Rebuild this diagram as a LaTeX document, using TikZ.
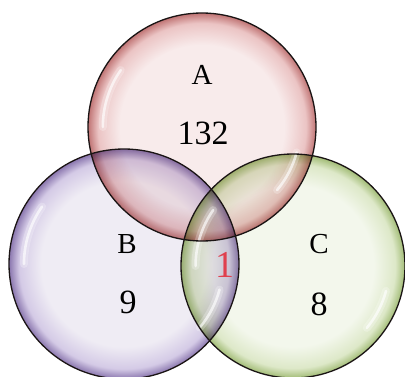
\documentclass[tikz,border=0pt]{standalone}
\usepackage{fontspec}
\setmainfont{Liberation Serif}
\definecolor{Ain}{HTML}{F8EBEB}
\definecolor{Amid}{HTML}{EBC4C4}
\definecolor{Aout}{HTML}{C07474}
\definecolor{Bin}{HTML}{EFECF4}
\definecolor{Bmid}{HTML}{D4CAE6}
\definecolor{Bout}{HTML}{8A76AE}
\definecolor{Cin}{HTML}{F3F7EC}
\definecolor{Cmid}{HTML}{DDE8C8}
\definecolor{Cout}{HTML}{A2BC76}
\definecolor{rimline}{HTML}{1A1414}
\definecolor{redone}{HTML}{E0404E}
\pgfdeclareradialshading{bubA}{\pgfpoint{0bp}{0bp}}{color(0bp)=(Ain); color(18bp)=(Ain); color(22.8bp)=(Amid); color(25bp)=(Aout); color(50bp)=(Aout)}
\pgfdeclareradialshading{bubB}{\pgfpoint{0bp}{0bp}}{color(0bp)=(Bin); color(18bp)=(Bin); color(22.8bp)=(Bmid); color(25bp)=(Bout); color(50bp)=(Bout)}
\pgfdeclareradialshading{bubC}{\pgfpoint{0bp}{0bp}}{color(0bp)=(Cin); color(18bp)=(Cin); color(22.8bp)=(Cmid); color(25bp)=(Cout); color(50bp)=(Cout)}
\tikzset{
  rim/.style={draw=rimline, line width=1.3pt},
  glow/.style={draw=white, line width=8pt, opacity=0.25, line cap=round},
  gloss/.style={draw=white, line width=2.6pt, opacity=0.65, line cap=round},
  lab/.style={font=\fontsize{29}{31}\selectfont, inner sep=0pt},
  num/.style={font=\fontsize{34}{36}\selectfont, inner sep=0pt},
  onered/.style={font=\fontsize{38}{40}\selectfont, inner sep=0pt, text=redone},
}
\newcommand{\glossarcs}[2]{%
  \path[glow] ($(#1)+(145:{0.87*#2})$) arc (145:180:{0.87*#2});
  \path[gloss] ($(#1)+(145:{0.87*#2})$) arc (145:180:{0.87*#2});
  \path[glow] ($(#1)+(-15:{0.86*#2})$) arc (-15:-40:{0.86*#2});
  \path[gloss] ($(#1)+(-15:{0.86*#2})$) arc (-15:-40:{0.86*#2});
}
\usetikzlibrary{calc}
\begin{document}
\begin{tikzpicture}[x=1pt,y=1pt]
\fill[white] (0,0) rectangle (405,376);
\useasboundingbox (0,0) rectangle (405,376);
\coordinate (cA) at (202,249);
\coordinate (cB) at (124,112);
\coordinate (cC) at (293,110);
\begin{scope}[blend group=multiply]
\shade[shading=bubB] (cB) circle (115);
\shade[shading=bubC] (cC) circle (112);
\shade[shading=bubA] (cA) circle (114);
\end{scope}
\glossarcs{cA}{114}
\glossarcs{cB}{115}
\glossarcs{cC}{112}
\path[rim] (cB) circle (115);
\path[rim] (cC) circle (112);
\path[rim] (cA) circle (114);
\node[lab] (tA) at (202,301) {A};
\node[num] (nA) at (203,243) {132};
\node[lab] (tB) at (127,132) {B};
\node[num] (nB) at (128,74) {9};
\node[lab] (tC) at (319,132) {C};
\node[num] (nC) at (319,72) {8};
\node[onered] (nABC) at (225,111) {1};
\end{tikzpicture}
\end{document}
